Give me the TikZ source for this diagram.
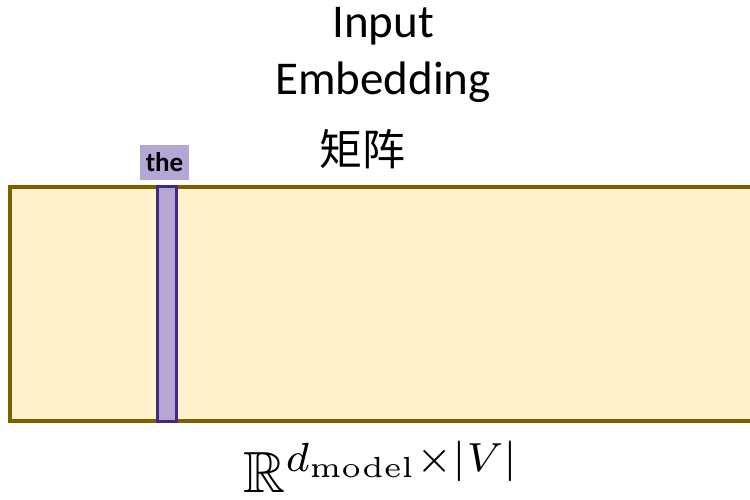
\documentclass[tikz,border=0pt]{standalone}
\usepackage[no-math]{fontspec}
\usepackage{amssymb}
\usepackage{graphicx}
\setmainfont{Carlito}
\newfontfamily\cjk{Noto Sans CJK SC}
\definecolor{matfill}{HTML}{FFF2CC}
\definecolor{matedge}{HTML}{7F6000}
\definecolor{colfill}{HTML}{B4A7D6}
\definecolor{coledge}{HTML}{3F2A7F}
\begin{document}
\begin{tikzpicture}[x=1pt,y=-1pt,
  matrixbox/.style={draw=matedge,fill=matfill,line width=3.5pt},
  tokencol/.style={draw=coledge,fill=colfill,line width=3pt},
  tokenlabel/.style={fill=colfill,inner sep=0pt,minimum width=49pt,minimum height=35pt,
    font=\fontsize{27}{32}\selectfont\bfseries},
  titletext/.style={align=center,font=\fontsize{47}{57}\selectfont}]
\useasboundingbox (0,0) rectangle (750,500);
\clip (0,0) rectangle (750,500);
% embedding matrix, running off the right edge
\draw[matrixbox] (10,187) rectangle (770,421);
% column of the token "the"
\draw[tokencol] (157,187) rectangle (176,421);
\node[tokenlabel] (lab) at (164.5,162.5) {the};
% heading
\node[titletext] (title) at (383,55) {Input\\Embedding};
\node[font=\fontsize{43}{50}\selectfont\cjk] (cjk) at (362,149) {矩阵};
% dimensions
\node[inner sep=0pt] (dim) at (382,467) {\resizebox{277pt}{!}{$\mathbb{R}^{d_{\mathrm{model}}\times|V|}$}};
\end{tikzpicture}
\end{document}
